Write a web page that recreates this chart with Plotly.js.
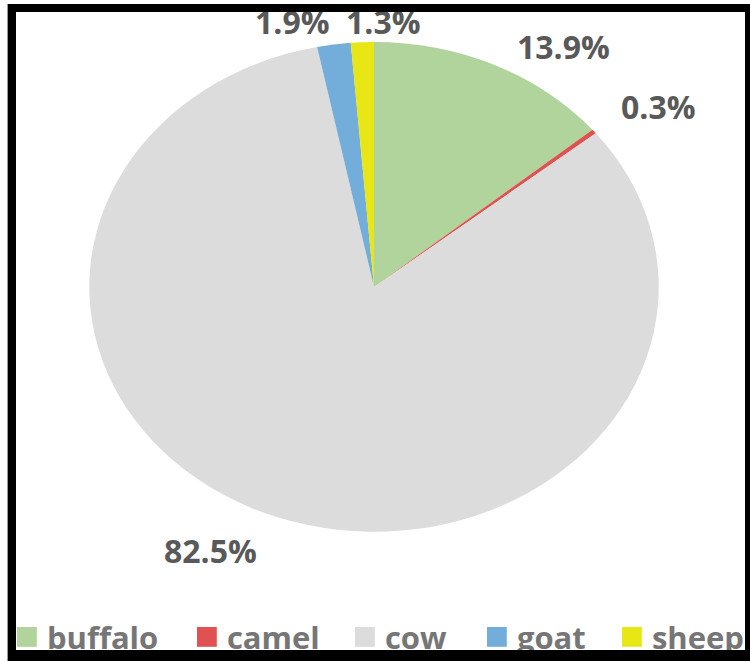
<!DOCTYPE html>
<html>
<head>
<meta charset="utf-8">
<script src="https://cdn.plot.ly/plotly-3.0.1.min.js"></script>
<style>
  html, body { margin: 0; padding: 0; background: #ffffff; }
  #wrap { position: relative; width: 750px; height: 661px; overflow: hidden; }
  #chart { position: absolute; left: 0; top: 0; width: 750px; height: 661px; }
  #frame { position: absolute; left: 8px; top: 4px; right: 0; bottom: 0;
           border-left: 8px solid #000; border-top: 8px solid #000;
           border-right: 5px solid #000; border-bottom: 11px solid #000;
           box-shadow: -1px 0 0 #9a9a9a; pointer-events: none; }
</style>
</head>
<body>
<div id="wrap">
  <div id="chart"></div>
  <div id="frame"></div>
</div>
<script>
// ---- data ----
var categories = ["buffalo", "camel", "cow", "goat", "sheep"];
var shares = [13.9, 0.3, 82.5, 1.9, 1.3];
var sliceColors = ["#B0D49B", "#E05252", "#DCDCDC", "#72AED9", "#E8E615"];

// ---- layout helpers (pixels in the 750x661 picture) ----
var labelPos = [[563, 47], [658, 107], [210, 553], [292, 22], [383, 22]];
var legendSwatchLeft = [17, 197, 355, 487, 622];
var legendSwatchTop = 627;

var W = 750, H = 661;
var cx = 374, cy = 288, rx = 286, ry = 246;

var annotations = shares.map(function (v, i) {
  return {
    text: v.toFixed(1) + "%",
    x: labelPos[i][0] / W, y: 1 - labelPos[i][1] / H,
    xref: "paper", yref: "paper", xanchor: "center", yanchor: "middle",
    showarrow: false,
    font: { family: "Open Sans, sans-serif", size: 32, color: "#595959", weight: 700 }
  };
});

var trace = {
  type: "pie",
  labels: categories,
  values: shares,
  sort: false,
  direction: "clockwise",
  rotation: 0,
  textinfo: "none",
  hoverinfo: "label+percent",
  marker: { colors: sliceColors, line: { color: "#ffffff", width: 0 } },
  domain: { x: [(cx - rx) / W, (cx + rx) / W], y: [(H - cy - rx) / H, (H - cy + rx) / H] }
};

var layout = {
  width: W, height: H,
  margin: { l: 0, r: 0, t: 0, b: 0 },
  paper_bgcolor: "#ffffff",
  showlegend: true,
  legend: {
    orientation: "h", x: 0.005, y: 1 - 637 / H, xanchor: "left", yanchor: "middle",
    font: { family: "Open Sans, sans-serif", size: 31, color: "#767676", weight: 700 },
    itemclick: false, itemdoubleclick: false, traceorder: "normal"
  },
  annotations: annotations
};

Plotly.newPlot("chart", [trace], layout, { displayModeBar: false, staticPlot: true }).then(function (gd) {
  // stretch the round pie into the ellipse of the reference
  var k = ry / rx;
  var pl = gd.querySelector(".pielayer");
  if (pl) {
    pl.setAttribute("transform", "matrix(1,0,0," + k + ",0," + (cy * (1 - k)) + ")");
  }
  // larger legend swatches
  gd.querySelectorAll(".legend .legendpoints path").forEach(function (p) {
    var t = p.getAttribute("transform") || "";
    p.setAttribute("transform", t + " scale(1.65)");
    p.style.strokeWidth = "0";
  });
  // spread legend entries like the reference
  var sb = gd.querySelector(".legend .scrollbox");
  if (sb) sb.removeAttribute("clip-path");
  var lg = gd.querySelector(".legend");
  if (lg) lg.removeAttribute("clip-path");
  var items = gd.querySelectorAll(".legend .traces");
  var box = document.getElementById("chart").getBoundingClientRect();
  items.forEach(function (g, i) {
    var sym = g.querySelector(".legendpoints path");
    if (!sym || legendSwatchLeft[i] === undefined) return;
    var r = sym.getBoundingClientRect();
    var curX = r.left - box.left, curY = r.top - box.top;
    var t = g.getAttribute("transform") || "translate(0,0)";
    var m = /translate\(\s*([-\d.e]+)[ ,]+([-\d.e]+)\s*\)/.exec(t);
    var tx = m ? parseFloat(m[1]) : 0, ty = m ? parseFloat(m[2]) : 0;
    g.setAttribute("transform", "translate(" + (tx + legendSwatchLeft[i] - curX) + "," +
      (ty + legendSwatchTop - curY) + ")");
  });
});
</script>
</body>
</html>
